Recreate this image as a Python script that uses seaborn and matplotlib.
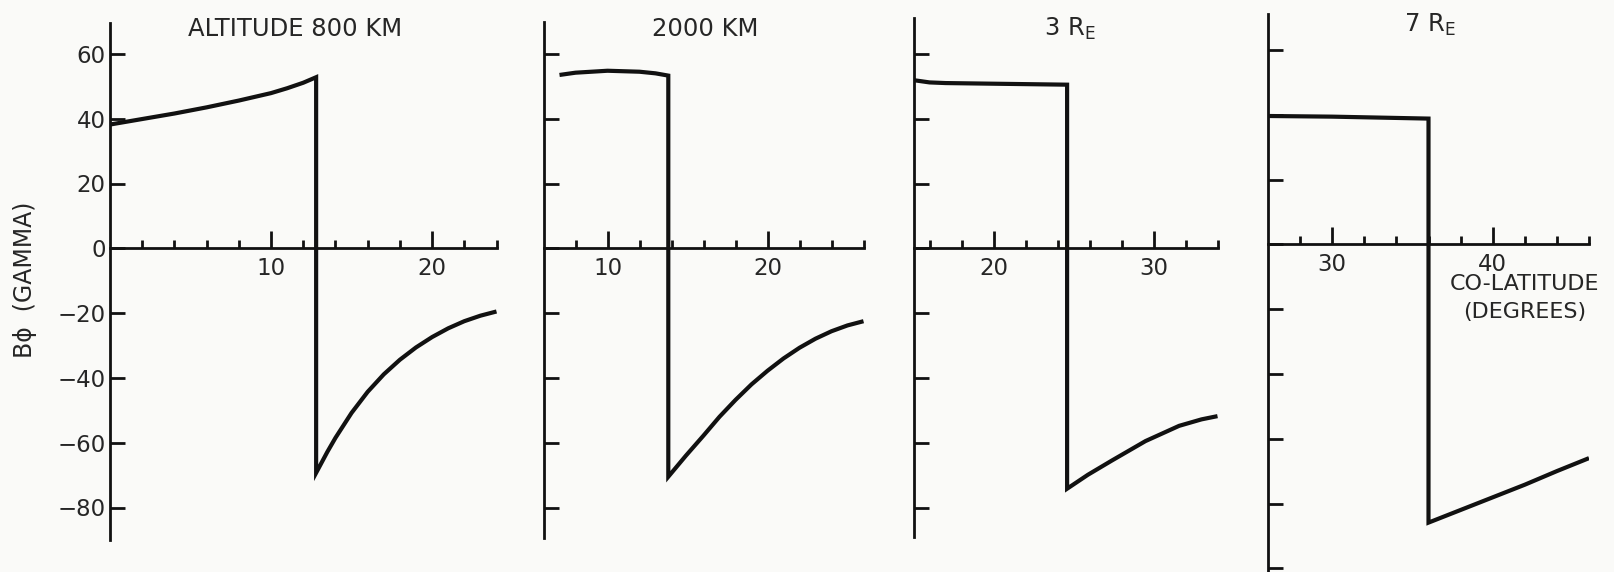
import numpy as np
import pandas as pd
import matplotlib
matplotlib.use("Agg")
import matplotlib.pyplot as plt
import seaborn as sns

sns.set_style("white")
plt.rcParams['font.family'] = ['DejaVu Sans']
plt.rcParams['mathtext.fontset'] = 'custom'
plt.rcParams['mathtext.rm'] = 'DejaVu Sans'
plt.rcParams['mathtext.it'] = 'DejaVu Sans'

# ---------------- data ----------------
titles = ["ALTITUDE 800 KM", "2000 KM", r"3 R$_{\mathrm{E}}$", r"7 R$_{\mathrm{E}}$"]

p1_x = [0, 2, 4, 6, 8, 10, 11, 12, 12.8, 12.8, 13.5, 14, 15, 16, 17, 18, 19, 20, 21, 22, 23, 24]
p1_y = [38.2, 39.9, 41.6, 43.5, 45.6, 47.9, 49.4, 51.1, 52.8, -69.3, -62.8, -58.5, -50.8, -44.3, -38.9,
        -34.4, -30.6, -27.4, -24.7, -22.5, -20.8, -19.5]

p2_x = [7, 8, 10, 12, 13, 13.8, 13.8, 14.9, 16, 17, 18, 19, 20, 21, 22, 23, 24, 25, 26]
p2_y = [53.5, 54.2, 54.8, 54.5, 54.0, 53.3, -70.5, -64.0, -57.8, -52.0, -46.8, -42.0, -37.8, -34.0,
        -30.7, -27.9, -25.6, -23.8, -22.5]

p3_x = [15, 16, 17, 20, 24.6, 24.6, 25.9, 27.4, 29.5, 31.6, 33, 34]
p3_y = [51.9, 51.2, 51.0, 50.8, 50.5, -74.2, -69.9, -65.5, -59.5, -54.8, -52.8, -51.8]

p4_x = [26, 30, 36, 36, 38, 40, 42, 44, 46]
p4_y = [39.6, 39.4, 38.8, -85.9, -82, -78.1, -74.2, -70.0, -66.0]

xlims = [(0, 24), (6, 26), (15, 34), (26, 46)]
major_ticks = [[10, 20], [10, 20], [20, 30], [30, 40]]
minor_ticks = [[2, 4, 6, 8, 12, 14, 16, 18, 22, 24],
               [8, 12, 14, 16, 18, 22, 24, 26],
               [16, 18, 22, 24, 26, 28, 32, 34],
               [28, 32, 34, 36, 38, 42, 44, 46]]
yticks_main = [60, 40, 20, 0, -20, -40, -60, -80]
yticks_last = [60, 40, 20, 0, -20, -40, -60, -80, -100]
spine_y = [(-90, 69.5), (-89.5, 70), (-89, 71), (-102, 71)]
title_x = [11.5, 16.1, 24.8, 36.1]

curves = [(p1_x, p1_y), (p2_x, p2_y), (p3_x, p3_y), (p4_x, p4_y)]

# ---------------- layout ----------------
W, H = 1614, 572
bg = "#fafaf8"
ink = "#111111"
txt = "#262626"
fig = plt.figure(figsize=(W / 100, H / 100), dpi=100, facecolor=bg)

px_left = [110.0, 543.5, 913.5, 1268.0]
px_right = [496.5, 863.5, 1217.5, 1589.0]
y0_px = 248.3
per_unit = 3.24
ytop, ybot = 74, -104
top_px = y0_px - ytop * per_unit
bot_px = y0_px - ybot * per_unit
y_shift = [0, 0, 0, -4]

for i in range(4):
    l = px_left[i] / W
    w = (px_right[i] - px_left[i]) / W
    b = (H - bot_px - y_shift[i]) / H
    h = (bot_px - top_px) / H
    ax = fig.add_axes([l, b, w, h])
    ax.set_facecolor("none")
    cx, cy = curves[i]
    df = pd.DataFrame({"x": cx, "y": cy})
    sns.lineplot(data=df, x="x", y="y", sort=False, estimator=None, ax=ax,
                 color=ink, linewidth=3.0, solid_joinstyle="miter", solid_capstyle="butt")
    ax.set_xlim(*xlims[i])
    ax.set_ylim(ybot, ytop)
    for s in ["top", "right"]:
        ax.spines[s].set_visible(False)
    ax.spines["bottom"].set_position(("data", 0))
    ax.spines["bottom"].set_bounds(*xlims[i])
    ax.spines["left"].set_bounds(*spine_y[i])
    for s in ["bottom", "left"]:
        ax.spines[s].set_color(ink)
        ax.spines[s].set_linewidth(2.0)
    ax.set_xticks(major_ticks[i])
    ax.set_xticks(minor_ticks[i], minor=True)
    ax.set_xticklabels([str(t) for t in major_ticks[i]])
    ax.tick_params(which="both", bottom=True, left=True, top=False, right=False)
    ax.tick_params(axis="x", which="major", direction="in", length=12.5, width=2.0,
                   color=ink, pad=6.0, labelsize=16.5, labelcolor=txt)
    ax.tick_params(axis="x", which="minor", direction="in", length=6.0, width=2.0, color=ink)
    yt = yticks_last if i == 3 else yticks_main
    ax.set_yticks(yt)
    if i == 0:
        ax.set_yticklabels(["\u2212" + str(-t) if t < 0 else str(t) for t in yt])
    else:
        ax.set_yticklabels([])
    ax.tick_params(axis="y", which="major", direction="in", length=10.8, width=2.0,
                   color=ink, pad=3, labelsize=16.5, labelcolor=txt)
    ax.set_xlabel("")
    ax.set_ylabel("")
    ax.text(title_x[i], 67.7, titles[i], ha="center", va="center", fontsize=17.5, color=txt)
    if i == 3:
        ax.text(42.0, -16.5, "CO-LATITUDE\n(DEGREES)", ha="center", va="center",
                fontsize=16, color=txt, linespacing=1.5)

fig.text(25 / W, 1 - 280 / H, "B\u03d5  (GAMMA)", rotation=90, ha="center", va="center",
         fontsize=17, color=txt)

fig.savefig("out.png", dpi=100, facecolor=bg)
